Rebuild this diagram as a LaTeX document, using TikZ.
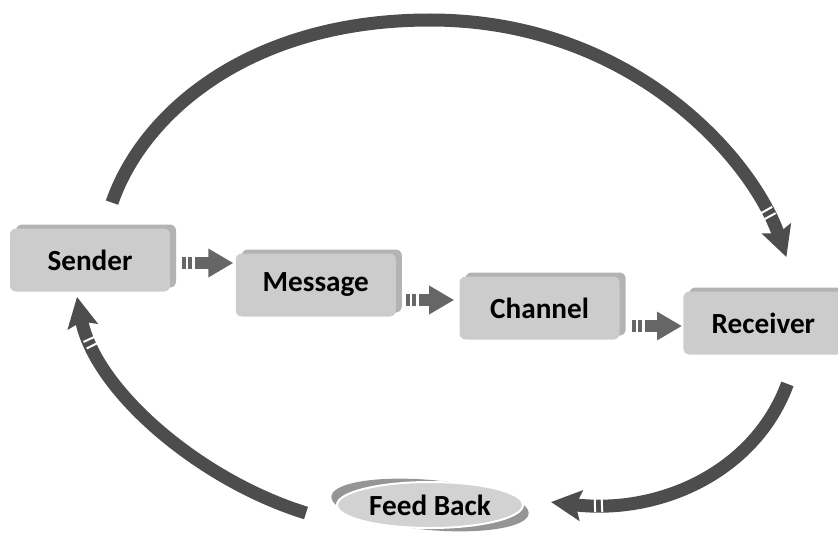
\documentclass[tikz,border=0pt]{standalone}
\usepackage{fontspec}
\setmainfont{Carlito}
\usetikzlibrary{positioning, arrows.meta, shapes.geometric, shadows, decorations.markings}
\definecolor{boxgray}{HTML}{CCCCCC}
\definecolor{shadegray}{HTML}{B3B3B3}
\definecolor{pipegray}{HTML}{666666}
\definecolor{arcgray}{HTML}{4D4D4D}
\definecolor{ringgray}{HTML}{D2D2D2}
\definecolor{swooshgray}{HTML}{959595}
\tikzset{
  stage/.style={fill=boxgray, rounded corners=3pt, minimum width=80pt,
                minimum height=31.5pt, font=\fontsize{14.6}{17}\selectfont\bfseries,
                copy shadow={shadow xshift=3pt, shadow yshift=2pt, fill=shadegray, draw=none}},
  feedback/.style={ellipse, fill=ringgray, draw=white, line width=1pt,
                   minimum width=93pt, minimum height=23pt, inner sep=0pt,
                   font=\fontsize{14.6}{17}\selectfont\bfseries},
  gap/.style={draw=white, line width=#1, -},
  pipe/.style={draw=pipegray, line width=6pt, -{Triangle[length=12.5pt, width=13.5pt]},
               postaction={decorate, decoration={markings,
                 mark=at position 2.5pt with {\draw[gap=1pt] (0,-4pt) -- (0,4pt);},
                 mark=at position 5.75pt with {\draw[gap=1.5pt] (0,-4pt) -- (0,4pt);}}}},
  bigarc/.style={draw=arcgray, line width=6.5pt,
                 -{Stealth[length=15pt, width=15pt, inset=2.5pt]},
                 postaction={decorate, decoration={markings,
                   mark=at position -22pt with {\draw[gap=1pt] (0,-4pt) -- (0,4pt);},
                   mark=at position -25.5pt with {\draw[gap=1pt] (0,-4pt) -- (0,4pt);}}}}
}

\begin{document}
\begin{tikzpicture}[x=0.5pt, y=-0.5pt]
  \useasboundingbox (0,0) rectangle (838,535);
  % the four stages
  \node[stage] (sender) at (90,260) {Sender};
  \node[stage, right=32.5pt of sender, yshift=-12.5pt] (message) {Message};
  \node[stage, right=31.5pt of message, yshift=-11.5pt] (channel) {Channel};
  \node[stage, right=31.5pt of channel, yshift=-7.5pt] (receiver) {Receiver};
  % feed back ellipse with its swoosh
  \coordinate (fbc) at (430,505);
  \fill[swooshgray, rotate around={-5:(fbc)}] (fbc) ellipse (99 and 25);
  \node[feedback] (fb) at (fbc) {Feed Back};
  \draw[pipe] ([xshift=6pt, yshift=-1.5pt]sender.east) -- ([xshift=-1pt, yshift=-1.5pt]sender.east -| message.west);
  \draw[pipe] ([xshift=5pt, yshift=-7.5pt]message.east) -- ([xshift=-2.5pt, yshift=-7.5pt]message.east -| channel.west);
  \draw[pipe] ([xshift=6pt, yshift=-9pt]channel.east) -- ([xshift=-0.5pt, yshift=-9pt]channel.east -| receiver.west);
  % big loop
  \coordinate (peak) at (430,20);
  \draw[bigarc] ([xshift=11pt, yshift=12.75pt]sender.north)
        .. controls +(31,-90) and +(-180,0) .. (peak)
        .. controls +(200,0) and +(-35,-100) .. ([xshift=11.5pt, yshift=17pt]receiver.north);
  \draw[bigarc] ([xshift=12pt, yshift=-14.5pt]receiver.south)
        .. controls +(-32,87) and +(110,13) .. ([xshift=13.5pt, yshift=1.5pt]fb.east);
  \draw[bigarc] ([xshift=-15pt, yshift=-4pt]fb.west)
        .. controls +(-107,-33) and +(18,93) .. ([xshift=-6.5pt, yshift=-2.5pt]sender.south);
\end{tikzpicture}
\end{document}
